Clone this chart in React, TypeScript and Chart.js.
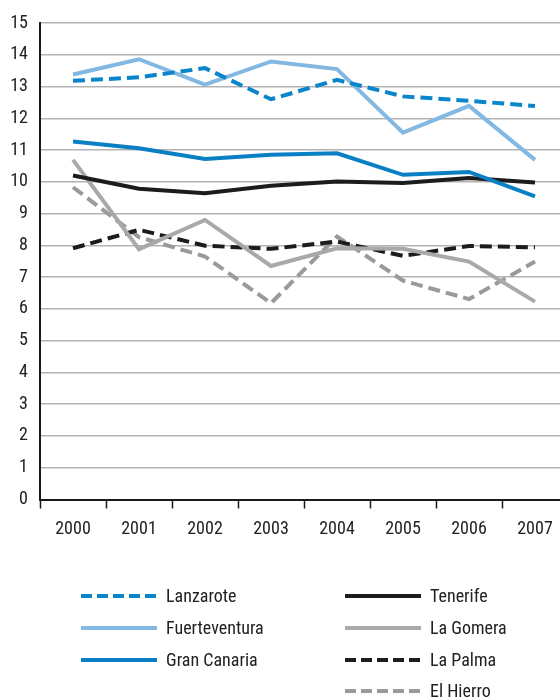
import React, { useEffect, useRef } from "react";
import { Chart, registerables } from "chart.js";

Chart.register(...registerables);

const years = ["2000", "2001", "2002", "2003", "2004", "2005", "2006", "2007"];
const lanzarote = [13.18, 13.29, 13.58, 12.6, 13.21, 12.69, 12.55, 12.39];
const fuerteventura = [13.38, 13.86, 13.06, 13.79, 13.55, 11.55, 12.39, 10.69];
const granCanaria = [11.27, 11.06, 10.72, 10.85, 10.9, 10.22, 10.31, 9.54];
const tenerife = [10.2, 9.78, 9.64, 9.88, 10.01, 9.96, 10.12, 9.98];
const laGomera = [10.69, 7.88, 8.8, 7.35, 7.91, 7.89, 7.49, 6.23];
const laPalma = [7.91, 8.49, 7.99, 7.89, 8.12, 7.67, 7.98, 7.94];
const elHierro = [9.83, 8.26, 7.65, 6.18, 8.28, 6.89, 6.31, 7.49];
const yMin = 0;
const yMax = 15;
const yStep = 1;

const FONT = "'Roboto Condensed', 'Roboto', sans-serif";

type S = { label: string; data: number[]; color: string; dash: number[] };
const series: S[] = [
  { label: "Lanzarote", data: lanzarote, color: "#0a85c9", dash: [12, 6] },
  { label: "Fuerteventura", data: fuerteventura, color: "#82b8e2", dash: [] },
  { label: "Gran Canaria", data: granCanaria, color: "#0a80c4", dash: [] },
  { label: "Tenerife", data: tenerife, color: "#1c1c1c", dash: [] },
  { label: "La Gomera", data: laGomera, color: "#a9a9a9", dash: [] },
  { label: "La Palma", data: laPalma, color: "#1c1c1c", dash: [12, 6] },
  { label: "El Hierro", data: elHierro, color: "#9a9a9a", dash: [12, 6] },
];

const legendLeft = [0, 1, 2];
const legendRight = [3, 4, 5, 6];
const rowY = [596, 628, 660, 691];

function LegendItem({ s, x, y }: { s: S; x: number; y: number }) {
  return (
    <div
      style={{
        position: "absolute",
        left: x,
        top: y - 12,
        height: 24,
        display: "flex",
        alignItems: "center",
        whiteSpace: "nowrap",
      }}
    >
      <svg width={76} height={6} style={{ display: "block" }}>
        <line
          x1={0}
          y1={3}
          x2={76}
          y2={3}
          stroke={s.color}
          strokeWidth={4}
          strokeDasharray={s.dash.length ? "11 5" : undefined}
        />
      </svg>
      <span
        style={{
          marginLeft: 9,
          fontFamily: FONT,
          fontSize: 18,
          color: "#222",
          lineHeight: "24px",
        }}
      >
        {s.label}
      </span>
    </div>
  );
}

export default function App() {
  const ref = useRef<HTMLCanvasElement | null>(null);

  useEffect(() => {
    if (!ref.current) return;
    const chart = new Chart(ref.current, {
      type: "line",
      data: {
        labels: years,
        datasets: series.map((s) => ({
          label: s.label,
          data: s.data,
          borderColor: s.color,
          backgroundColor: s.color,
          borderWidth: 4,
          borderDash: s.dash,
          pointRadius: 0,
          tension: 0,
          fill: false,
        })),
      },
      options: {
        responsive: false,
        animation: false,
        devicePixelRatio: 1,
        layout: { padding: { top: 23, left: 0, right: 0, bottom: 0 } },
        plugins: { legend: { display: false }, tooltip: { enabled: false } },
        scales: {
          x: {
            type: "category",
            offset: true,
            grid: {
              offset: true,
              drawOnChartArea: false,
              drawTicks: true,
              tickLength: 9,
              tickWidth: 1.5,
              tickColor: "#1a1a1a",
            },
            border: { display: true, color: "#1a1a1a", width: 2 },
            ticks: {
              color: "#222",
              padding: 10,
              maxRotation: 0,
              autoSkip: false,
              font: { family: FONT, size: 18 },
            },
            afterFit: (scale: any) => {
              scale.height = 199.5;
            },
          },
          y: {
            min: yMin,
            max: yMax,
            ticks: {
              stepSize: yStep,
              color: "#222",
              padding: 12,
              font: { family: FONT, size: 18 },
            },
            grid: { color: "#b3b3b3", lineWidth: 1.5, drawTicks: false },
            border: { display: true, color: "#1a1a1a", width: 2 },
            afterFit: (scale: any) => {
              scale.width = 40;
            },
          },
        },
      },
    });
    return () => chart.destroy();
  }, []);

  return (
    <div
      style={{
        position: "absolute",
        left: 0,
        top: 0,
        width: 560,
        height: 699,
        overflow: "hidden",
        background: "#fff",
      }}
    >
      <canvas ref={ref} width={568} height={699} style={{ display: "block" }} />
      {legendLeft.map((i, r) => (
        <LegendItem key={i} s={series[i]} x={81} y={rowY[r]} />
      ))}
      {legendRight.map((i, r) => (
        <LegendItem key={i} s={series[i]} x={345} y={rowY[r]} />
      ))}
    </div>
  );
}
